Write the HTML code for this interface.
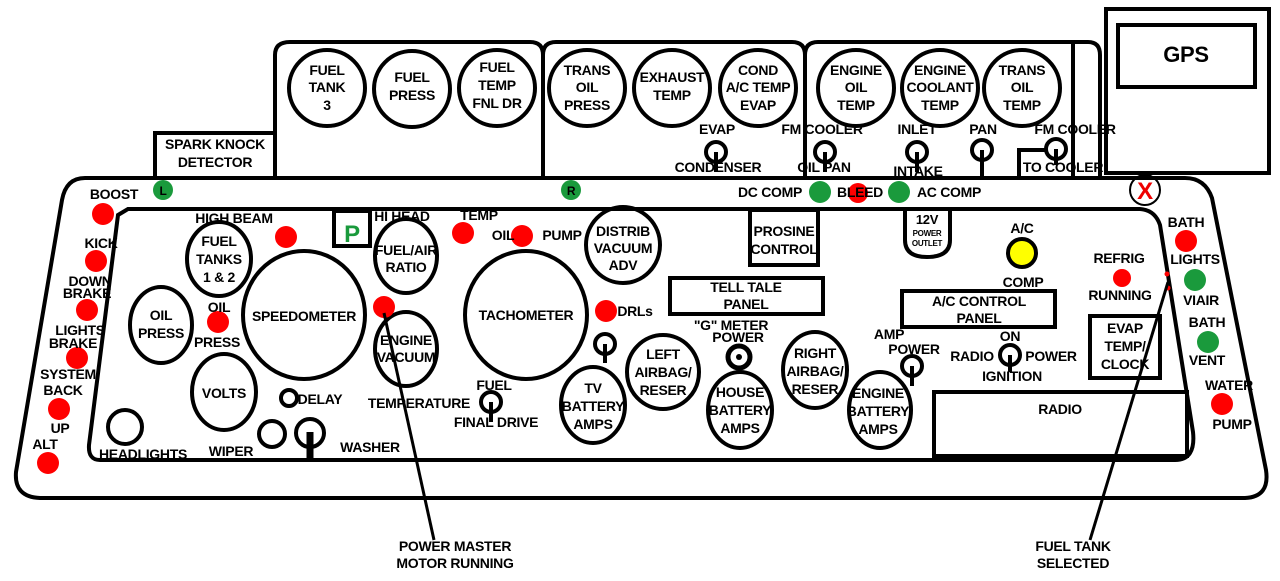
<!DOCTYPE html>
<html><head><style>
html,body{margin:0;padding:0;background:#fff;}
svg{display:block;}
text{font-family:"Liberation Sans",Arial,sans-serif;font-weight:bold;font-size:14px;fill:#000;text-anchor:middle;letter-spacing:-0.3px;}
.g{fill:none;stroke:#000;stroke-width:4;}
.t{fill:none;stroke:#000;stroke-width:3;}
.r{fill:#f00;}
.gr{fill:#1a9a3c;}
</style></head><body>
<svg width="1280" height="581" viewBox="0 0 1280 581" xmlns="http://www.w3.org/2000/svg">
<path class="g" d="M275,178 V55 Q275,42 290,42 H530 Q543,42 543,55 V178"/>
<path class="g" d="M543,178 V55 Q543,42 556,42 H792 Q805,42 805,55 V178"/>
<path class="g" d="M805,178 V55 Q805,42 818,42 H1088 Q1100,42 1100,55 V178"/>
<line class="g" x1="1073" y1="42" x2="1073" y2="178"/>
<rect class="g" x="155" y="133" width="120" height="45"/>
<text x="215" y="149">SPARK KNOCK</text><text x="215" y="167">DETECTOR</text>
<rect class="g" x="1106" y="9" width="163" height="164"/>
<rect class="g" x="1118" y="25" width="137" height="62"/>
<text x="1186" y="62" style="font-size:22px">GPS</text>
<g class="g">
<circle cx="327" cy="88" r="38"/><circle cx="412" cy="89" r="38"/><circle cx="497" cy="88" r="38"/>
<circle cx="587" cy="88" r="38"/><circle cx="672" cy="88" r="38"/><circle cx="758" cy="88" r="38"/>
<circle cx="856" cy="88" r="38"/><circle cx="940" cy="88" r="38"/><circle cx="1022" cy="88" r="38"/>
</g>
<text x="327" y="75">FUEL</text><text x="327" y="92">TANK</text><text x="327" y="110">3</text>
<text x="412" y="82">FUEL</text><text x="412" y="100">PRESS</text>
<text x="497" y="72">FUEL</text><text x="497" y="90">TEMP</text><text x="497" y="108">FNL DR</text>
<text x="587" y="75">TRANS</text><text x="587" y="92">OIL</text><text x="587" y="110">PRESS</text>
<text x="672" y="82">EXHAUST</text><text x="672" y="100">TEMP</text>
<text x="758" y="75">COND</text><text x="758" y="92">A/C TEMP</text><text x="758" y="110">EVAP</text>
<text x="856" y="75">ENGINE</text><text x="856" y="92">OIL</text><text x="856" y="110">TEMP</text>
<text x="940" y="75">ENGINE</text><text x="940" y="92">COOLANT</text><text x="940" y="110">TEMP</text>
<text x="1022" y="75">TRANS</text><text x="1022" y="92">OIL</text><text x="1022" y="110">TEMP</text>
<g class="g">
<circle cx="716" cy="152" r="10"/><line x1="716" y1="152" x2="716" y2="172"/>
<circle cx="825" cy="152" r="10"/><line x1="825" y1="152" x2="825" y2="172"/>
<circle cx="917" cy="152" r="10"/><line x1="917" y1="152" x2="917" y2="172"/>
<circle cx="982" cy="150" r="10"/><line x1="982" y1="150" x2="982" y2="178"/>
<circle cx="1056" cy="149" r="10"/><line x1="1056" y1="149" x2="1056" y2="165"/>
<polyline points="982,178 1019,178 1019,150 1046,150"/>
</g>
<text x="717" y="134">EVAP</text><text x="718" y="172">CONDENSER</text>
<text x="822" y="134">FM COOLER</text><text x="824" y="172">OIL PAN</text>
<text x="917" y="134">INLET</text><text x="918" y="176">INTAKE</text>
<text x="983" y="134">PAN</text>
<text x="1075" y="134">FM COOLER</text><text x="1063" y="172">TO COOLER</text>
<path class="g" d="M85,178 H1185 Q1205,178 1212,198 L1266,470 Q1270,497 1245,498 H40 Q14,497 16,472 L62,200 Q66,178 85,178 Z"/>
<path class="g" d="M128,209 H1140 Q1155,210 1160,225 L1193,432 Q1196,460 1175,460 H100 Q88,460 89,445 L118,215 Z"/>
<circle cx="1145" cy="190" r="15" fill="none" stroke="#000" stroke-width="2"/>
<text x="1145" y="199" style="font-size:24px;fill:#e00">X</text>
<circle class="gr" cx="163" cy="190" r="10"/><text x="163" y="195" style="font-size:12px">L</text>
<circle class="gr" cx="571" cy="190" r="10"/><text x="571" y="195" style="font-size:12px">R</text>
<text x="770" y="197">DC COMP</text>
<circle class="gr" cx="820" cy="192" r="11"/>
<circle class="r" cx="858" cy="193" r="10"/>
<text x="860" y="197">BLEED</text>
<circle class="gr" cx="899" cy="192" r="11"/>
<text x="949" y="197">AC COMP</text>
<g class="r">
<circle cx="103" cy="214" r="11"/><circle cx="96" cy="261" r="11"/><circle cx="87" cy="310" r="11"/>
<circle cx="77" cy="358" r="11"/><circle cx="59" cy="409" r="11"/><circle cx="48" cy="463" r="11"/>
</g>
<text x="114" y="199">BOOST</text><text x="101" y="248">KICK</text>
<text x="90" y="286">DOWN</text><text x="87" y="298">BRAKE</text>
<text x="80" y="335">LIGHTS</text><text x="73" y="348">BRAKE</text>
<text x="68" y="379">SYSTEM</text><text x="63" y="395">BACK</text>
<text x="60" y="433">UP</text><text x="45" y="449">ALT</text>
<rect class="g" x="334" y="211" width="36" height="35"/>
<text x="352" y="242" style="font-size:24px;fill:#1a9a3c">P</text>
<g class="g">
<ellipse cx="219" cy="259" rx="32" ry="37"/>
<ellipse cx="304" cy="315" rx="61" ry="64"/>
<ellipse cx="161" cy="325" rx="31" ry="38"/>
<ellipse cx="224" cy="392" rx="32" ry="38"/>
<ellipse cx="406" cy="256" rx="31" ry="37"/>
<ellipse cx="406" cy="349" rx="31" ry="37"/>
<ellipse cx="526" cy="315" rx="61" ry="64"/>
<ellipse cx="623" cy="245" rx="37" ry="38"/>
<ellipse cx="593" cy="405" rx="32" ry="38"/>
<ellipse cx="663" cy="372" rx="36" ry="37"/>
<ellipse cx="740" cy="410" rx="32" ry="38"/>
<ellipse cx="815" cy="370" rx="32" ry="38"/>
<ellipse cx="880" cy="410" rx="31" ry="38"/>
<circle cx="125" cy="427" r="17"/>
<circle cx="289" cy="398" r="8"/>
<circle cx="272" cy="434" r="13"/>
<circle cx="310" cy="433" r="14"/>
<circle cx="491" cy="402" r="10"/><line x1="491" y1="402" x2="491" y2="422"/>
<circle cx="605" cy="344" r="10"/><line x1="605" y1="344" x2="605" y2="363"/>
<circle cx="912" cy="366" r="10"/><line x1="912" y1="366" x2="912" y2="386"/>
<circle cx="1010" cy="355" r="10"/><line x1="1010" y1="355" x2="1010" y2="372"/>
</g>
<line x1="310" y1="432" x2="310" y2="460" stroke="#000" stroke-width="7"/>
<circle cx="739" cy="357" r="11" fill="none" stroke="#000" stroke-width="5"/><circle cx="739" cy="357" r="3"/>
<text x="219" y="246">FUEL</text><text x="219" y="264">TANKS</text><text x="219" y="282">1 &amp; 2</text>
<text x="304" y="321">SPEEDOMETER</text>
<text x="161" y="320">OIL</text><text x="161" y="338">PRESS</text>
<text x="224" y="398">VOLTS</text>
<text x="406" y="255">FUEL/AIR</text><text x="406" y="272">RATIO</text>
<text x="406" y="345">ENGINE</text><text x="406" y="362">VACUUM</text>
<text x="526" y="320">TACHOMETER</text>
<text x="623" y="236">DISTRIB</text><text x="623" y="253">VACUUM</text><text x="623" y="270">ADV</text>
<text x="593" y="393">TV</text><text x="593" y="411">BATTERY</text><text x="593" y="429">AMPS</text>
<text x="663" y="359">LEFT</text><text x="663" y="377">AIRBAG/</text><text x="663" y="395">RESER</text>
<text x="740" y="397">HOUSE</text><text x="740" y="415">BATTERY</text><text x="740" y="433">AMPS</text>
<text x="815" y="358">RIGHT</text><text x="815" y="376">AIRBAG/</text><text x="815" y="394">RESER</text>
<text x="878" y="398">ENGINE</text><text x="878" y="416">BATTERY</text><text x="878" y="434">AMPS</text>
<g class="r">
<circle cx="286" cy="237" r="11"/><circle cx="463" cy="233" r="11"/><circle cx="522" cy="236" r="11"/>
<circle cx="218" cy="322" r="11"/><circle cx="384" cy="307" r="11"/><circle cx="606" cy="311" r="11"/>
<circle cx="1122" cy="278" r="9"/><circle cx="1186" cy="241" r="11"/><circle cx="1222" cy="404" r="11"/>
<circle cx="1167" cy="274" r="2.5"/><circle cx="1168" cy="288" r="2.5"/>
</g>
<g class="gr"><circle cx="1195" cy="280" r="11"/><circle cx="1208" cy="342" r="11"/></g>
<circle cx="1022" cy="253" r="14" fill="#ff0" stroke="#000" stroke-width="4"/>
<text x="234" y="223">HIGH BEAM</text>
<text x="402" y="221">HI HEAD</text><text x="479" y="220">TEMP</text>
<text x="503" y="240">OIL</text><text x="562" y="240">PUMP</text>
<text x="219" y="312">OIL</text><text x="217" y="347">PRESS</text>
<text x="635" y="316">DRLs</text>
<text x="320" y="404">DELAY</text>
<text x="419" y="408">TEMPERATURE</text>
<text x="494" y="390">FUEL</text><text x="496" y="427">FINAL DRIVE</text>
<text x="143" y="459">HEADLIGHTS</text>
<text x="231" y="456">WIPER</text>
<text x="370" y="452">WASHER</text>
<text x="731" y="330">"G" METER</text><text x="738" y="342">POWER</text>
<text x="889" y="339">AMP</text><text x="914" y="354">POWER</text>
<text x="1022" y="233">A/C</text><text x="1023" y="287">COMP</text>
<text x="1010" y="341">ON</text>
<text x="972" y="361">RADIO</text><text x="1051" y="361">POWER</text>
<text x="1012" y="381">IGNITION</text>
<text x="1119" y="263">REFRIG</text><text x="1120" y="300">RUNNING</text>
<text x="1186" y="227">BATH</text><text x="1195" y="264">LIGHTS</text>
<text x="1201" y="305">VIAIR</text><text x="1207" y="327">BATH</text><text x="1207" y="365">VENT</text>
<text x="1229" y="390">WATER</text><text x="1232" y="429">PUMP</text>
<rect class="g" x="750" y="210" width="68" height="55"/>
<text x="784" y="236">PROSINE</text><text x="784" y="254">CONTROL</text>
<path class="g" d="M905,210 V240 Q905,257 927,257 Q950,257 950,240 V210"/>
<text x="927" y="224" style="font-size:13px">12V</text>
<text x="927" y="236" style="font-size:8px">POWER</text><text x="927" y="246" style="font-size:8px">OUTLET</text>
<rect class="g" x="670" y="278" width="153" height="36"/>
<text x="746" y="292">TELL TALE</text><text x="746" y="309">PANEL</text>
<rect class="g" x="902" y="291" width="153" height="36"/>
<text x="979" y="306">A/C CONTROL</text><text x="979" y="323">PANEL</text>
<rect class="g" x="1090" y="316" width="70" height="62"/>
<text x="1125" y="333">EVAP</text><text x="1125" y="351">TEMP/</text><text x="1125" y="369">CLOCK</text>
<rect class="g" x="934" y="392" width="253" height="64"/>
<text x="1060" y="414">RADIO</text>
<line x1="384" y1="313" x2="434" y2="540" stroke="#000" stroke-width="3"/>
<line x1="1168" y1="282" x2="1090" y2="540" stroke="#000" stroke-width="3"/>
<text x="455" y="551">POWER MASTER</text><text x="455" y="568">MOTOR RUNNING</text>
<text x="1073" y="551">FUEL TANK</text><text x="1073" y="568">SELECTED</text>
</svg>
</body></html>
